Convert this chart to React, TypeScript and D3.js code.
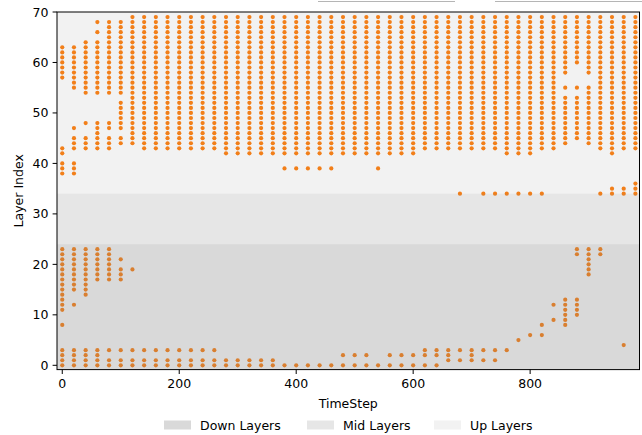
import React from "react";
import * as d3 from "d3";

// ---- data ----
const timeSteps: number[] = [
  0, 20, 40, 60, 80, 100, 120, 140, 160, 180, 200, 220, 240, 260, 280, 300, 320, 340, 360, 380,
  400, 420, 440, 460, 480, 500, 520, 540, 560, 580, 600, 620, 640, 660, 680, 700, 720, 740, 760, 780,
  800, 820, 840, 860, 880, 900, 920, 940, 960, 980,
];

// active layer indices per timestep (ranges written as a-b)
const activeLayers: string[] = [
  "0-3,8,11-23,38-40,42-43,57-63", // 0
  "0-3,12,15-23,38-40,43-45,47,55-63", // 20
  "0-3,14-23,43-45,48,54-64", // 40
  "0-3,17-23,43-48,54-64,66,68", // 60
  "0-1,3,17-23,43-45,47-48,54-68", // 80
  "0-1,3,17-19,21,44-45,47-52,54-68", // 100
  "0-1,3,19,44-69", // 120
  "0-1,3,43-69", // 140
  "0-1,3,43-69", // 160
  "0-1,3,43-69", // 180
  "0-1,3,43-69", // 200
  "0-1,3,43-69", // 220
  "0-1,3,43-69", // 240
  "0-1,3,43-69", // 260
  "0-1,42-69", // 280
  "0-1,42-69", // 300
  "0-1,42-69", // 320
  "0-1,42-69", // 340
  "0-1,42-69", // 360
  "0,39,42-69", // 380
  "0,39,42-69", // 400
  "0,39,42-69", // 420
  "0,39,42-69", // 440
  "0,39,42-69", // 460
  "0,2,42-69", // 480
  "0,2,42-69", // 500
  "0,2,42-69", // 520
  "0,39,42-69", // 540
  "0,2,42-69", // 560
  "0,2,42-69", // 580
  "0,2,42-69", // 600
  "0,2-3,43-69", // 620
  "0,2-3,43-69", // 640
  "1-3,43-69", // 660
  "1,3,34,43-69", // 680
  "1-3,43-69", // 700
  "1,3,34,43-69", // 720
  "1,3,34,43-69", // 740
  "3,34,42-69", // 760
  "5,34,42-69", // 780
  "6,34,42-69", // 800
  "6,8,34,43-69", // 820
  "9,12,43-69", // 840
  "8-13,44-53,55,58-69", // 860
  "10-13,22-23,45-53,55,60-69", // 880
  "18-23,44-55,58-69", // 900
  "22-23,34,43-69", // 920
  "34-35,42-69", // 940
  "4,34-35,43-69", // 960
  "34-36,43-69", // 980
];

const bandNames: string[] = ["Down Layers", "Mid Layers", "Up Layers"];
const bandLow: number[] = [-0.85, 24, 34];
const bandHigh: number[] = [24, 34, 70];
const bandAlpha: number[] = [0.3, 0.2, 0.1];

const xTicks: number[] = [0, 200, 400, 600, 800];
const yTicks: number[] = [0, 10, 20, 30, 40, 50, 60, 70];

function parseLayers(s: string): number[] {
  const out: number[] = [];
  s.split(",").forEach((part) => {
    const [a, b] = part.split("-").map(Number);
    if (b === undefined || isNaN(b)) out.push(a);
    else for (let v = a; v <= b; v++) out.push(v);
  });
  return out;
}

const points: { t: number; l: number }[] = [];
timeSteps.forEach((t, i) => {
  parseLayers(activeLayers[i]).forEach((l) => points.push({ t, l }));
});

export default function App() {
  const W = 642;
  const H = 435;
  const left = 57;
  const right = 639.5;
  const top = 12;
  const bottom = 369.6;
  const font = "'DejaVu Sans', sans-serif";
  const fs = 12.5;

  const x = d3.scaleLinear().domain([-9, 987]).range([left, right]);
  const y = d3.scaleLinear().domain([-0.85, 70]).range([bottom, top]);

  const legendX = [164, 307, 434];

  return (
    <svg
      width={W}
      height={H}
      style={{ position: "absolute", left: 0, top: 0, background: "#fff" }}
      fontFamily={font}
    >
      <line x1={318} x2={455} y1={1.5} y2={1.5} stroke="#b5b5b5" strokeWidth={1} />
      <line x1={495} x2={642} y1={1.5} y2={1.5} stroke="#b5b5b5" strokeWidth={1} />
      <defs>
        <clipPath id="plot">
          <rect x={left} y={top} width={right - left} height={bottom - top} />
        </clipPath>
      </defs>
      <g clipPath="url(#plot)">
        {points.map((p, i) => (
          <circle key={i} cx={x(p.t)} cy={y(p.l)} r={2.1} fill="#ff7f0e" />
        ))}
        {bandNames.map((n, i) => (
          <rect
            key={n}
            x={left}
            width={right - left}
            y={y(bandHigh[i])}
            height={y(bandLow[i]) - y(bandHigh[i])}
            fill="#808080"
            fillOpacity={bandAlpha[i]}
          />
        ))}
      </g>
      <rect
        x={left}
        y={top}
        width={right - left}
        height={bottom - top}
        fill="none"
        stroke="#000"
        strokeWidth={1}
      />
      {xTicks.map((t) => (
        <g key={t}>
          <line x1={x(t)} x2={x(t)} y1={bottom} y2={bottom + 4.4} stroke="#000" strokeWidth={1} />
          <text x={x(t)} y={bottom + 18} fontSize={fs} textAnchor="middle" fill="#000">
            {t}
          </text>
        </g>
      ))}
      {yTicks.map((t) => (
        <g key={t}>
          <line x1={left - 4.4} x2={left} y1={y(t)} y2={y(t)} stroke="#000" strokeWidth={1} />
          <text
            x={left - 8.6}
            y={y(t) + 4.5}
            fontSize={fs}
            textAnchor="end"
            fill="#000"
          >
            {t}
          </text>
        </g>
      ))}
      <text x={(left + right) / 2} y={408} fontSize={fs} textAnchor="middle" fill="#000">
        TimeStep
      </text>
      <text
        transform={`translate(22.5, ${(top + bottom) / 2}) rotate(-90)`}
        fontSize={fs}
        textAnchor="middle"
        fill="#000"
      >
        Layer Index
      </text>
      {bandNames.map((n, i) => (
        <g key={n}>
          <rect
            x={legendX[i]}
            y={420.5}
            width={27}
            height={9}
            fill="#808080"
            fillOpacity={bandAlpha[i]}
          />
          <text x={legendX[i] + 36} y={429.5} fontSize={fs} fill="#000">
            {n}
          </text>
        </g>
      ))}
    </svg>
  );
}
